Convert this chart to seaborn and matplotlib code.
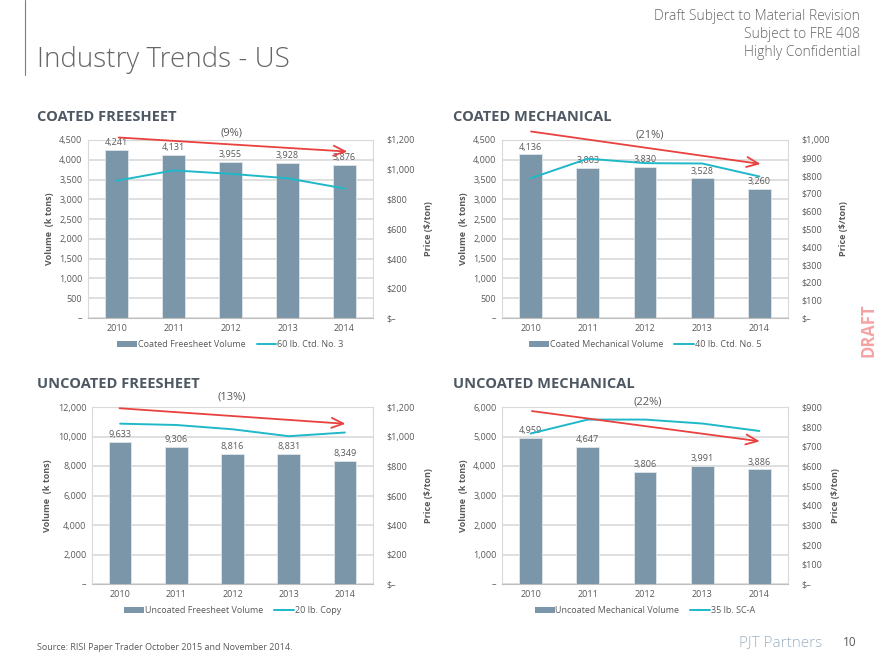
import matplotlib
matplotlib.use("Agg")
import matplotlib.pyplot as plt
from matplotlib.patches import Patch
from matplotlib.lines import Line2D
from matplotlib.ticker import FuncFormatter, MultipleLocator, FixedLocator
import numpy as np
import pandas as pd
import seaborn as sns

years = ["2010", "2011", "2012", "2013", "2014"]

cfs_volume = [4241, 4131, 3955, 3928, 3876]
cfs_price = [925, 995, 972, 942, 873]

cm_volume = [4136, 3803, 3830, 3528, 3260]
cm_price = [785, 895, 870, 868, 795]

ufs_volume = [9633, 9306, 8816, 8831, 8349]
ufs_price = [1087, 1078, 1049, 1002, 1027]

um_volume = [4959, 4647, 3806, 3991, 3886]
um_price = [765, 836, 836, 816, 778]

BAR = "#7b96a8"
LINE = "#1fb8c9"
RED = "#e8413f"
GREY = "#595959"
GRID = "#d9d9d9"

W, H = 880, 660

sns.set_theme(style="white")
plt.rcParams["font.family"] = ["Open Sans", "DejaVu Sans"]


def vol_fmt(v, _):
    return "–" if v == 0 else f"{v:,.0f}"


def price_fmt(v, _):
    return "$–" if v == 0 else f"${v:,.0f}"


def panel(fig, rect, title, title_x, vol, price, vol_max, vol_step, price_max, price_step,
          bar_name, line_name, pct, pct_xy, arrow_from, arrow_to):
    ax = fig.add_axes(rect)
    df = pd.DataFrame({"year": years, "pos": np.arange(len(years)),
                       "volume": vol, "price": price})
    sns.barplot(data=df, x="year", y="volume", color=BAR, width=0.4,
                saturation=1, edgecolor="#dfe6ea", linewidth=0.6, ax=ax, zorder=2)
    for c in ax.containers:
        ax.bar_label(c, labels=[f"{v:,.0f}" for v in vol], padding=2,
                     fontsize=6.5, color=GREY)
    ax.set_xlim(-0.5, len(years) - 0.5)
    ax.set_ylim(0, vol_max)
    ax.yaxis.set_major_locator(MultipleLocator(vol_step))
    ax.yaxis.set_major_formatter(FuncFormatter(vol_fmt))
    ax.grid(axis="y", color=GRID, linewidth=1.2, zorder=0)
    ax.set_axisbelow(True)
    ax.set_xlabel("")
    ax.set_ylabel("Volume  (k tons)", fontsize=6.5, fontweight="bold", color=GREY, labelpad=4)
    ax.tick_params(axis="both", labelsize=6.5, colors=GREY, length=0, pad=4)
    ax.xaxis.set_minor_locator(FixedLocator(np.arange(-0.5, len(years), 1.0)))
    ax.tick_params(axis="x", which="minor", length=3, color="#bfbfbf", width=0.8)
    for s in ax.spines.values():
        s.set_color(GRID)
        s.set_linewidth(0.8)
    ax.spines["bottom"].set_color("#bfbfbf")

    ax2 = ax.twinx()
    sns.lineplot(data=df, x="pos", y="price", color=LINE, linewidth=1.4, ax=ax2)
    ax2.set_ylim(0, price_max)
    ax2.yaxis.set_major_locator(MultipleLocator(price_step))
    ax2.yaxis.set_major_formatter(FuncFormatter(price_fmt))
    ax2.set_ylabel("Price ($/ton)", fontsize=6.5, fontweight="bold", color=GREY, labelpad=6)
    ax2.tick_params(axis="y", labelsize=6.5, colors=GREY, length=0, pad=10)
    ax2.grid(False)
    for s in ax2.spines.values():
        s.set_visible(False)

    ax2.annotate("", xy=arrow_to, xytext=arrow_from, xycoords="axes fraction",
                 textcoords="axes fraction", annotation_clip=False,
                 arrowprops=dict(arrowstyle="->,head_length=0.7,head_width=0.3",
                                 color=RED, lw=1.3))
    ax2.text(pct_xy[0], pct_xy[1], pct, transform=ax2.transAxes, ha="center",
             va="center", fontsize=8, color=GREY)

    handles = [Patch(facecolor=BAR, edgecolor="none"),
               Line2D([0], [0], color=LINE, lw=1.4)]
    ax2.legend(handles, [bar_name, line_name], loc="center", bbox_to_anchor=(0.5, -0.15),
               ncol=2, frameon=False, fontsize=6.5, handlelength=2.2, handleheight=0.7,
               handletextpad=0.1, columnspacing=1.2, labelcolor=GREY)

    fig.text(title_x / W, rect[1] + rect[3] + 0.035, title, fontsize=10.5,
             fontweight="bold", color="#4d5863", va="center")
    return ax, ax2


fig = plt.figure(figsize=(8.8, 6.6), dpi=100)


def r(x0, y0, x1, y1):
    return [x0 / W, 1 - y1 / H, (x1 - x0) / W, (y1 - y0) / H]


panel(fig, r(88, 140, 373, 318), "COATED FREESHEET", 37, cfs_volume, cfs_price,
      4500, 500, 1200, 200, "Coated Freesheet Volume", "60 lb. Ctd. No. 3",
      "(9%)", (0.504, 1.04), (0.098, 1.015), (0.92, 0.934))
panel(fig, r(502, 140, 788, 318), "COATED MECHANICAL", 453, cm_volume, cm_price,
      4500, 500, 1000, 100, "Coated Mechanical Volume", "40 lb. Ctd. No. 5",
      "(21%)", (0.517, 1.03), (0.092, 1.05), (0.914, 0.863))
panel(fig, r(92, 407, 373, 584), "UNCOATED FREESHEET", 37, ufs_volume, ufs_price,
      12000, 2000, 1200, 200, "Uncoated Freesheet Volume", "20 lb. Copy",
      "(13%)", (0.497, 1.055), (0.088, 0.994), (0.912, 0.904))
panel(fig, r(502, 407, 788, 584), "UNCOATED MECHANICAL", 453, um_volume, um_price,
      6000, 1000, 900, 100, "Uncoated Mechanical Volume", "35 lb. SC-A",
      "(22%)", (0.508, 1.03), (0.095, 0.979), (0.911, 0.804))

# header
fig.add_artist(Line2D([25 / W, 25 / W], [1, 1 - 75 / H], color="#7f7f7f", lw=0.8))
fig.text(37 / W, 1 - 60 / H, "Industry Trends - US", fontsize=20, color="#666666",
         fontweight="light", va="center")
for i, line in enumerate(["Draft Subject to Material Revision", "Subject to FRE 408",
                          "Highly Confidential"]):
    fig.text(860 / W, 1 - (17 + 17.5 * i) / H, line, fontsize=10, color="#666666",
             ha="right", va="center", fontweight="light")

fig.text(868 / W, 1 - 330 / H, "DRAFT", rotation=90, fontsize=12, fontweight="bold",
         color="#f5a3a3", ha="center", va="center")

# footer
fig.text(37 / W, 1 - 648 / H, "Source: RISI Paper Trader October 2015 and November 2014.",
         fontsize=6.5, color=GREY, va="center")
fig.text(822 / W, 1 - 643 / H, "PJT Partners", fontsize=11, color="#9fb2c3",
         ha="right", va="center", fontweight="light")
fig.text(850 / W, 1 - 643 / H, "10", fontsize=8.5, color=GREY, ha="center", va="center")

fig.savefig("out.png", dpi=100)
